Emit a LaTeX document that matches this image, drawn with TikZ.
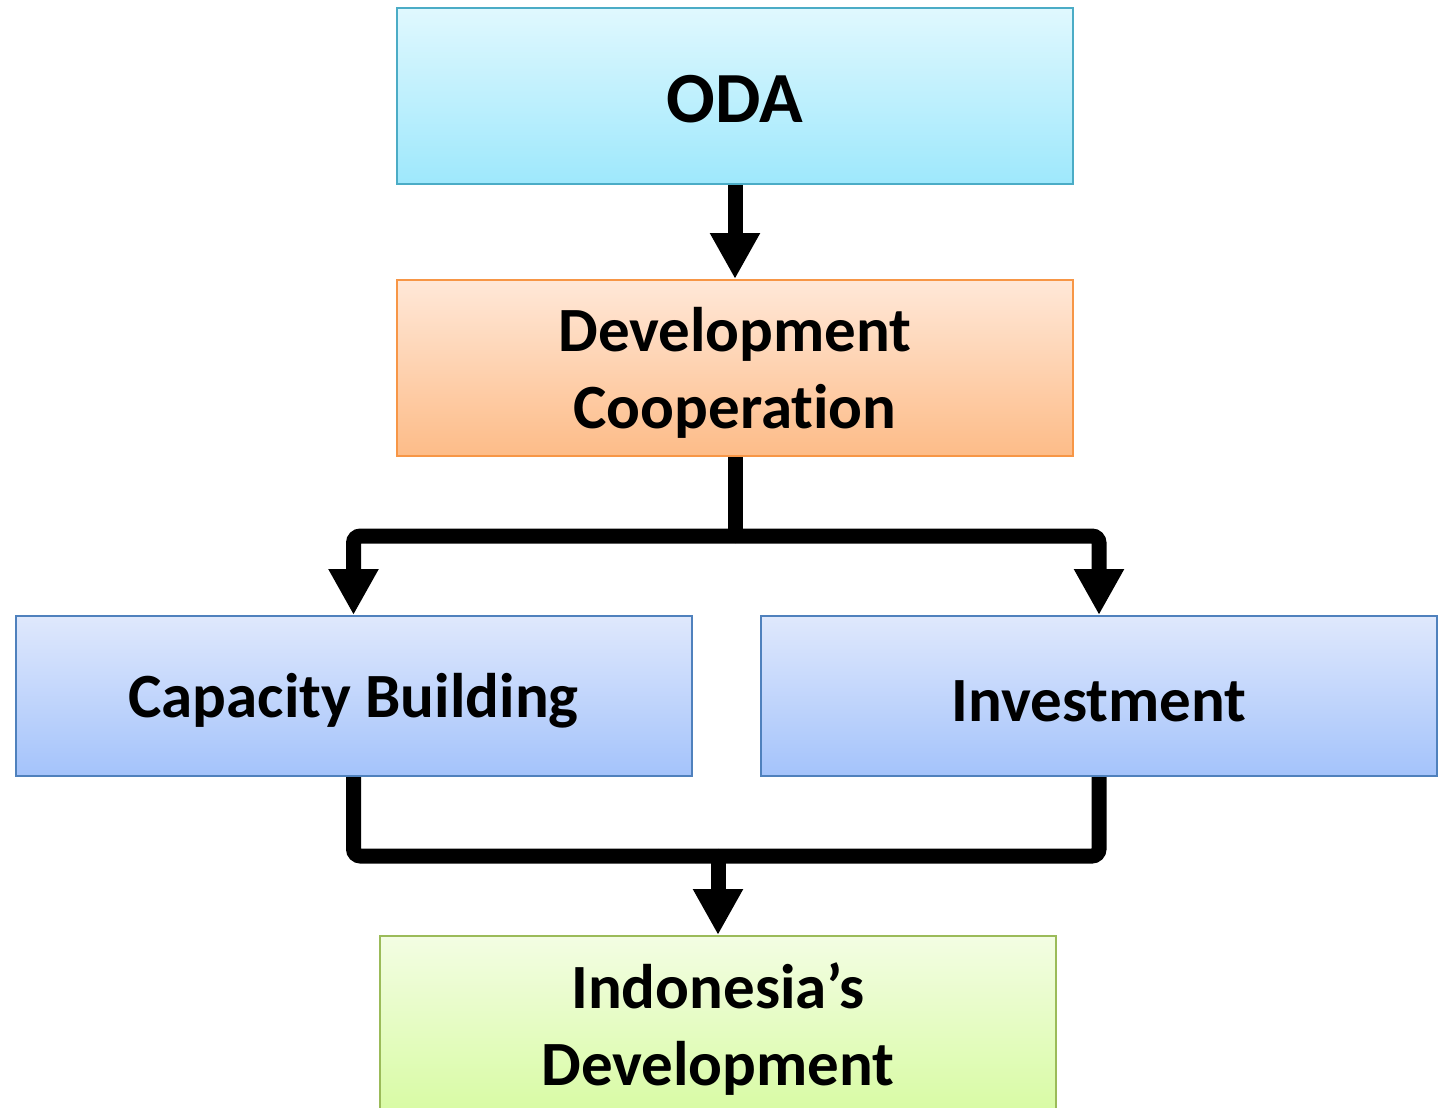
\documentclass[tikz,border=0pt]{standalone}
\usepackage{fontspec}
\setmainfont[Ligatures=NoCommon]{Carlito}
\usetikzlibrary{arrows.meta}
\definecolor{odaT}{HTML}{E0F8FE}\definecolor{odaB}{HTML}{9EE8FC}\definecolor{odaD}{HTML}{4BACC6}
\definecolor{devT}{HTML}{FFE8D8}\definecolor{devB}{HTML}{FDBC88}\definecolor{devD}{HTML}{F79646}
\definecolor{capT}{HTML}{DFE8FC}\definecolor{capB}{HTML}{A4C3FB}\definecolor{capD}{HTML}{4F81BD}
\definecolor{indT}{HTML}{F3FDE3}\definecolor{indB}{HTML}{D8FBA4}\definecolor{indD}{HTML}{9BBB59}
\newcommand{\dnline}[2][5pt]{\raisebox{-#1}[\height][\depth]{#2}}
\tikzset{
  box/.style={rectangle, inner sep=0pt, line width=2pt, minimum width=676pt, align=center,
    font=\bfseries\fontsize{63}{77}\selectfont},
  odabox/.style={box, minimum height=176pt, draw=odaD, top color=odaT, bottom color=odaB},
  devbox/.style={box, minimum height=176pt, draw=devD, top color=devT, bottom color=devB},
  capbox/.style={box, minimum height=160pt, draw=capD, top color=capT, bottom color=capB},
  indbox/.style={box, minimum height=176pt, draw=indD, top color=indT, bottom color=indB},
  conn/.style={line width=15pt, rounded corners=7pt},
  arr/.style={conn, -{Triangle[width=47pt,length=46pt]}}
}
\begin{document}
\begin{tikzpicture}[x=1pt,y=-1pt]
\useasboundingbox (0,0) rectangle (1443,1108);
\node[odabox, font=\bfseries\fontsize{72}{86}\selectfont] (oda) at (735,96) {\dnline[3pt]{ODA}};
\node[devbox] (dev) at (735,368) {\dnline{Development}\\\dnline{Cooperation}};
\node[capbox] (cap) at (353.5,696) {\dnline{Capacity Building}};
\node[capbox] (inv) at (1099,696) {\dnline{Investment}};
\node[indbox] (ind) at (718,1024) {\dnline{Indonesia’s}\\\dnline{Development}};
\coordinate (j1) at (735,536);
\coordinate (j2) at (718,856);
\draw[arr] (oda.south) -- (dev.north);
\draw[conn] (dev.south) -- (j1);
\draw[arr] (j1) -| (cap.north);
\draw[arr] (j1) -| (inv.north);
\draw[conn] (cap.south) |- (j2);
\draw[conn] (inv.south) |- (j2);
\draw[arr] (j2) -- (ind.north);
\end{tikzpicture}
\end{document}
